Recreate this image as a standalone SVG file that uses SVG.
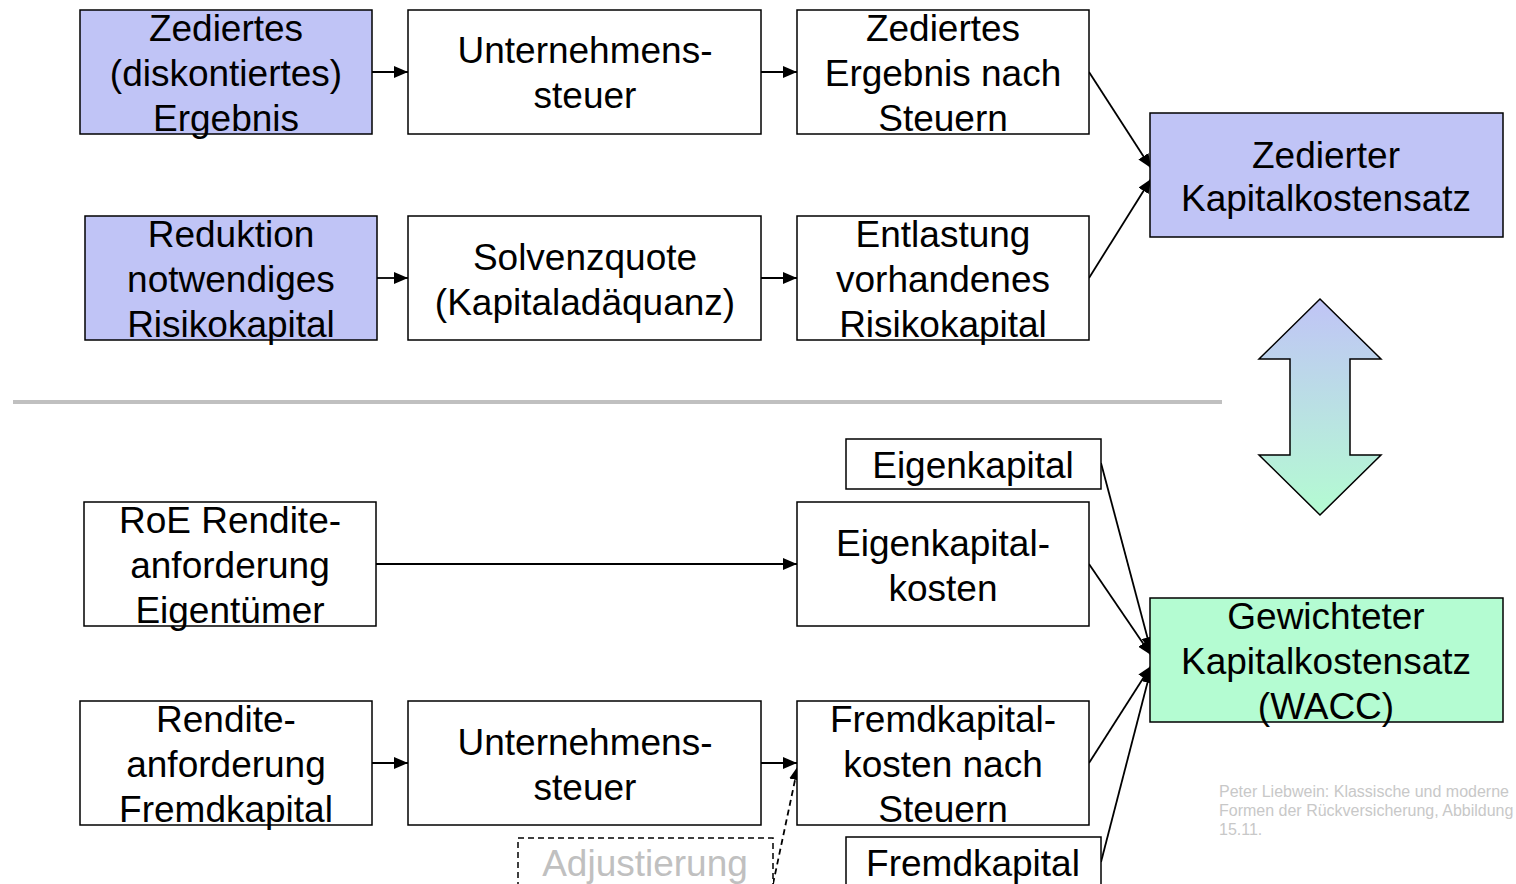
<svg xmlns="http://www.w3.org/2000/svg" width="1516" height="884" viewBox="0 0 1516 884">
<defs>
<style>
.box{stroke:#000;stroke-width:1.5;fill:#fff}
.blue{fill:#C0C4F6}
.green{fill:#B4FCD2}
.t{font-family:"Liberation Sans",Arial,sans-serif;font-size:37px;fill:#000;text-anchor:middle}
.c{stroke:#000;stroke-width:1.8;fill:none;marker-end:url(#ah)}
.note{font-family:"Liberation Sans",Arial,sans-serif;font-size:16px;fill:#C8C8C8}
</style>
<marker id="ah" viewBox="0 0 14 12" refX="14" refY="6" markerWidth="14" markerHeight="12" markerUnits="userSpaceOnUse" orient="auto">
<path d="M0,0 L14,6 L0,12 z" fill="#000"/>
</marker>
<linearGradient id="grad" x1="0" y1="0" x2="0" y2="1">
<stop offset="0" stop-color="#C0C4F6"/>
<stop offset="1" stop-color="#B4FCD2"/>
</linearGradient>
</defs>
<rect width="1516" height="884" fill="#fff"/>
<line x1="13" y1="402" x2="1222" y2="402" stroke="#C0C0C0" stroke-width="4"/>
<g id="connectors">
<line class="c" x1="372" y1="72" x2="408" y2="72"/>
<line class="c" x1="761" y1="72" x2="797" y2="72"/>
<line class="c" x1="377" y1="278" x2="408" y2="278"/>
<line class="c" x1="761" y1="278" x2="797" y2="278"/>
<line class="c" x1="1089" y1="72" x2="1151" y2="168"/>
<line class="c" x1="1089" y1="278" x2="1151" y2="179"/>
<line class="c" x1="376" y1="564" x2="797" y2="564"/>
<line class="c" x1="372" y1="763" x2="408" y2="763"/>
<line class="c" x1="761" y1="763" x2="797" y2="763"/>
<line class="c" x1="773" y1="884" x2="798" y2="766" stroke-dasharray="6,4"/>
<line class="c" x1="1101" y1="463" x2="1151" y2="651"/>
<line class="c" x1="1089" y1="564" x2="1151" y2="655"/>
<line class="c" x1="1089" y1="763" x2="1151" y2="666"/>
<line class="c" x1="1101" y1="862" x2="1151" y2="669"/>
</g>
<g id="n1"><rect class="box blue" x="80" y="10" width="292" height="124"/><text class="t" x="226" y="41">Zediertes</text><text class="t" x="226" y="86">(diskontiertes)</text><text class="t" x="226" y="131">Ergebnis</text></g>
<g id="n2"><rect class="box" x="408" y="10" width="353" height="124"/><text class="t" x="585" y="63">Unternehmens-</text><text class="t" x="585" y="108">steuer</text></g>
<g id="n3"><rect class="box" x="797" y="10" width="292" height="124"/><text class="t" x="943" y="41">Zediertes</text><text class="t" x="943" y="86">Ergebnis nach</text><text class="t" x="943" y="131">Steuern</text></g>
<g id="n4"><rect class="box blue" x="85" y="216" width="292" height="124"/><text class="t" x="231" y="247">Reduktion</text><text class="t" x="231" y="292">notwendiges</text><text class="t" x="231" y="337">Risikokapital</text></g>
<g id="n5"><rect class="box" x="408" y="216" width="353" height="124"/><text class="t" x="585" y="270">Solvenzquote</text><text class="t" x="585" y="315">(Kapitaladäquanz)</text></g>
<g id="n6"><rect class="box" x="797" y="216" width="292" height="124"/><text class="t" x="943" y="247">Entlastung</text><text class="t" x="943" y="292">vorhandenes</text><text class="t" x="943" y="337">Risikokapital</text></g>
<g id="n7"><rect class="box blue" x="1150" y="113" width="353" height="124"/><text class="t" x="1326" y="168">Zedierter</text><text class="t" x="1326" y="211">Kapitalkostensatz</text></g>
<g id="n8"><path d="M1320,299 L1381,359 L1350,359 L1350,455 L1381,455 L1320,515 L1259,455 L1290,455 L1290,359 L1259,359 Z" fill="url(#grad)" stroke="#000" stroke-width="1.5"/></g>
<g id="n9"><rect class="box" x="846" y="439" width="255" height="50"/><text class="t" x="973" y="478">Eigenkapital</text></g>
<g id="n10"><rect class="box" x="84" y="502" width="292" height="124"/><text class="t" x="230" y="533">RoE Rendite-</text><text class="t" x="230" y="578">anforderung</text><text class="t" x="230" y="623">Eigentümer</text></g>
<g id="n11"><rect class="box" x="797" y="502" width="292" height="124"/><text class="t" x="943" y="556">Eigenkapital-</text><text class="t" x="943" y="601">kosten</text></g>
<g id="n12"><rect class="box green" x="1150" y="598" width="353" height="124"/><text class="t" x="1326" y="629">Gewichteter</text><text class="t" x="1326" y="674">Kapitalkostensatz</text><text class="t" x="1326" y="719">(WACC)</text></g>
<g id="n13"><rect class="box" x="80" y="701" width="292" height="124"/><text class="t" x="226" y="732">Rendite-</text><text class="t" x="226" y="777">anforderung</text><text class="t" x="226" y="822">Fremdkapital</text></g>
<g id="n14"><rect class="box" x="408" y="701" width="353" height="124"/><text class="t" x="585" y="755">Unternehmens-</text><text class="t" x="585" y="800">steuer</text></g>
<g id="n15"><rect class="box" x="797" y="701" width="292" height="124"/><text class="t" x="943" y="732">Fremdkapital-</text><text class="t" x="943" y="777">kosten nach</text><text class="t" x="943" y="822">Steuern</text></g>
<g id="n16"><rect class="box" x="846" y="837" width="255" height="60"/><text class="t" x="973" y="876">Fremdkapital</text></g>
<g id="n17"><rect x="518" y="838" width="255" height="60" fill="#fff" stroke="#000" stroke-width="1.5" stroke-dasharray="6,4"/><text class="t" x="645" y="876" style="fill:#C0C0C0">Adjustierung</text></g>
<g id="note"><text class="note" x="1219" y="797">Peter Liebwein: Klassische und moderne</text><text class="note" x="1219" y="816">Formen der Rückversicherung, Abbildung</text><text class="note" x="1219" y="835">15.11.</text></g>
</svg>
